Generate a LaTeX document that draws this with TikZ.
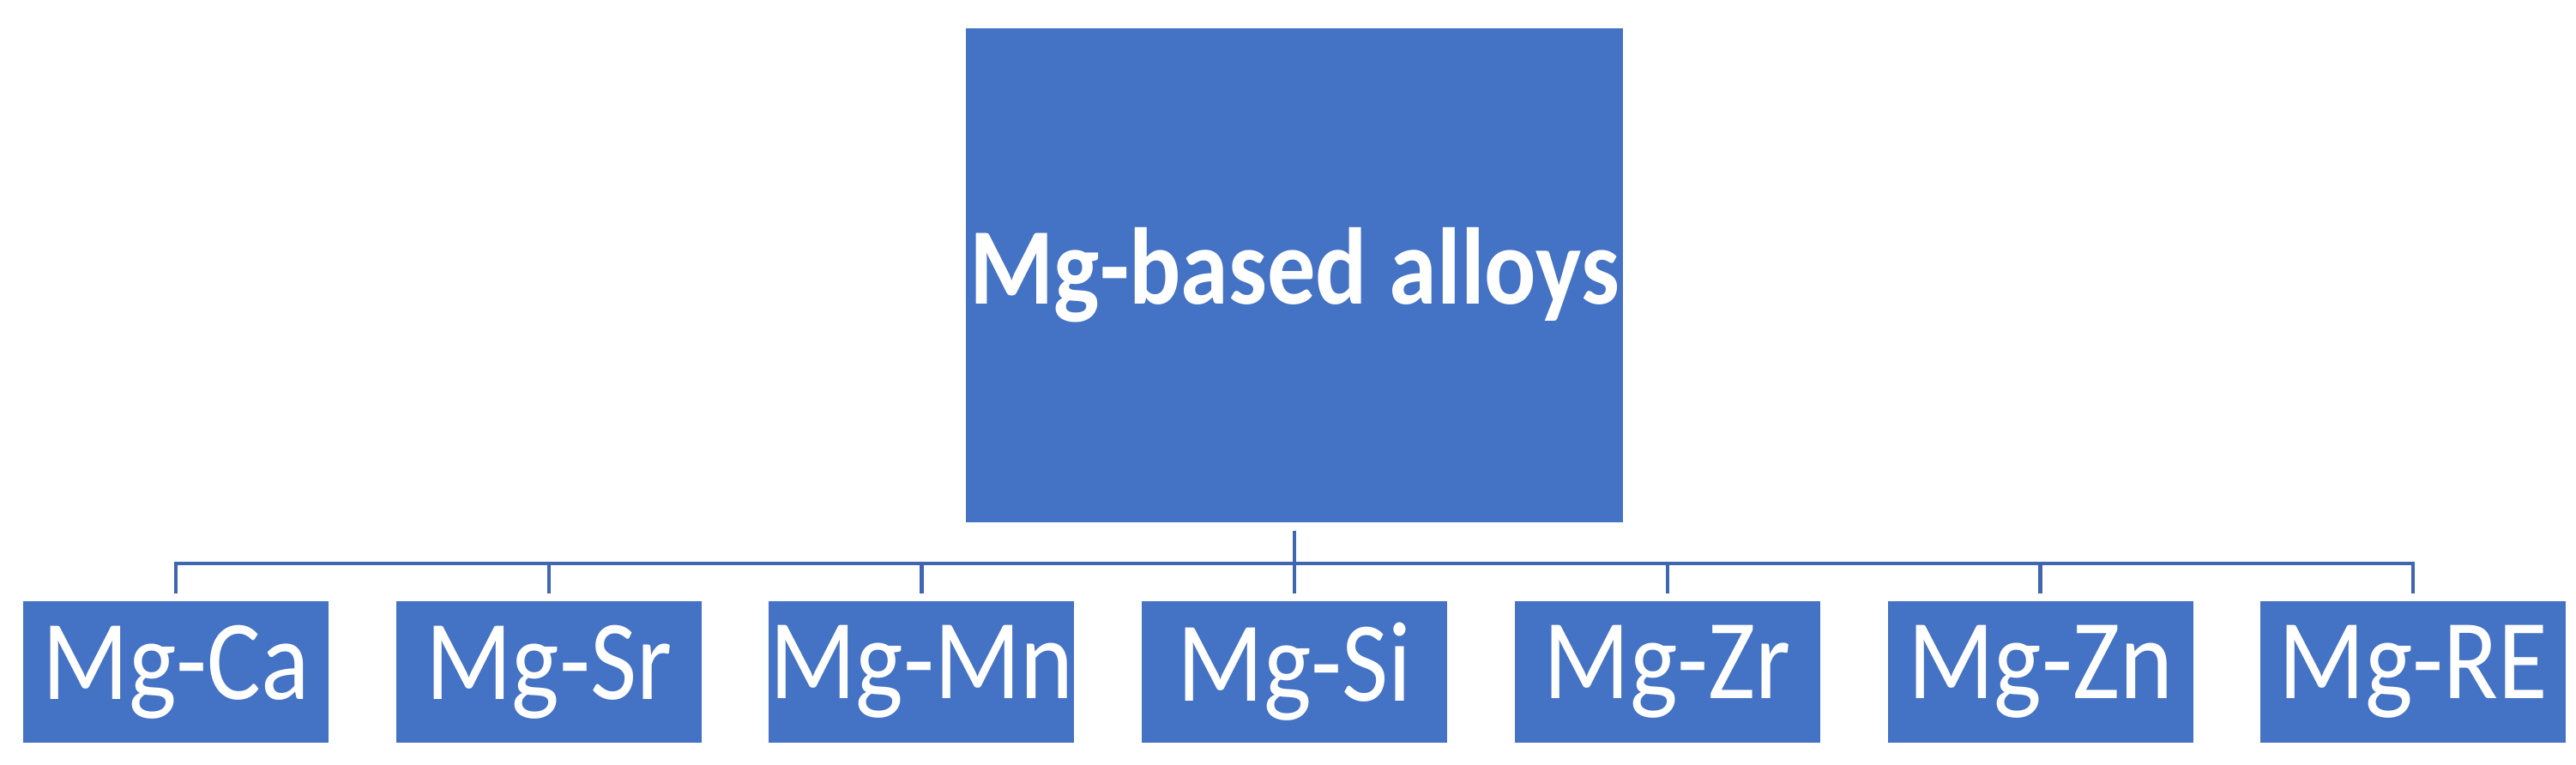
\documentclass[tikz,border=0pt]{standalone}
\usepackage{fontspec}
\setmainfont{Carlito}
\usepackage{xcolor}
\usepackage{tikz}
\usetikzlibrary{positioning}

\definecolor{mgblue}{HTML}{4472C4}
\definecolor{mgline}{HTML}{3F66B0}

\newcommand{\tallish}[1]{\scalebox{1}[1.13]{#1}}

\tikzset{
  rootbox/.style={fill=mgblue, text=white, inner sep=0pt, minimum width=76.6mm, minimum height=57.6mm, font=\fontsize{32}{36}\selectfont\bfseries},
  alloybox/.style={fill=mgblue, text=white, inner sep=0pt, minimum width=35.6mm, minimum height=16.5mm, font=\fontsize{33.5}{38}\selectfont},
  link/.style={draw=mgline, line width=1.2pt, shorten <=0.9mm, shorten >=0.8mm}
}

\begin{document}
\begin{tikzpicture}
        \useasboundingbox (0,0) rectangle (300.3mm,89.1mm);
        \coordinate (bus) at (0,23.4mm);

        % Leghe
        \node[alloybox] (mgca) at (20.5mm,10.75mm) {\tallish{Mg-Ca}};
        \node[alloybox, right=7.73mm of mgca] (mgsr) {\tallish{Mg-Sr}};
        \node[alloybox, right=7.73mm of mgsr] (mgmn) {\tallish{Mg-Mn}};
        \node[alloybox, right=7.73mm of mgmn] (mgsi) {\tallish{Mg-Si}};
        \node[alloybox, right=7.73mm of mgsi] (mgzr) {\tallish{Mg-Zr}};
        \node[alloybox, right=7.73mm of mgzr] (mgzn) {\tallish{Mg-Zn}};
        \node[alloybox, right=7.73mm of mgzn] (mgre) {\tallish{Mg-RE}};

        % Radice
        \node[rootbox] (root) at (mgsi |- 0,57mm) {\tallish{Mg-based alloys}};

        % Collegamenti
        \draw[link] (root.south) -- (root.south |- bus) -| (mgca.north);
        \draw[link] (root.south) -- (root.south |- bus) -| (mgsr.north);
        \draw[link] (root.south) -- (root.south |- bus) -| (mgmn.north);
        \draw[link] (root.south) -- (mgsi.north);
        \draw[link] (root.south) -- (root.south |- bus) -| (mgzr.north);
        \draw[link] (root.south) -- (root.south |- bus) -| (mgzn.north);
        \draw[link] (root.south) -- (root.south |- bus) -| (mgre.north);
    \end{tikzpicture}
\end{document}
